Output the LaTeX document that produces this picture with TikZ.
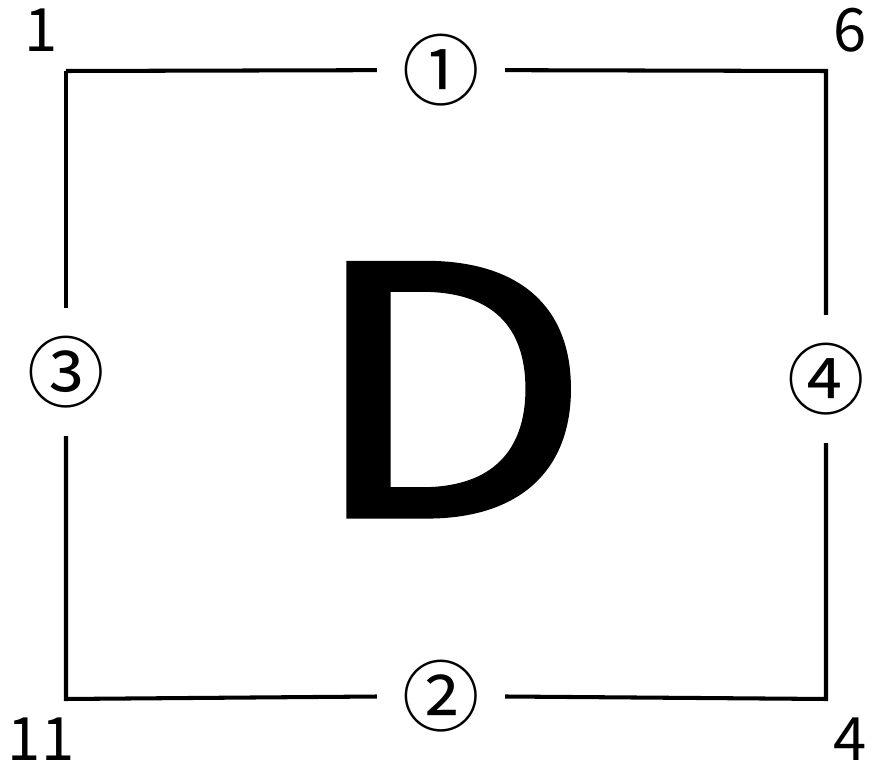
\documentclass[tikz,border=0pt]{standalone}
\usepackage{fontspec}
\setmainfont{Noto Sans CJK JP}
\newfontfamily\letterfont[FakeBold=1.5]{Noto Sans CJK JP}
\usetikzlibrary{positioning}
\tikzset{
  every picture/.style={line width=1.15pt},
  side/.style={circle, minimum size=1.24cm, inner sep=0pt, font=\fontsize{22}{22}\selectfont},
  corner/.style={anchor=base, inner sep=0pt, font=\fontsize{17}{17}\selectfont},
  letter/.style={anchor=base, inner sep=0pt, xscale=1.2, font=\fontsize{98}{98}\letterfont},
}
\begin{document}
\begin{tikzpicture}[x=0.01cm, y=-0.01cm]
  \useasboundingbox (0,0) rectangle (872,764);
  % corners of the frame
  \coordinate (tl) at (66,71);
  \coordinate (tr) at (826,71);
  \coordinate (br) at (826,699);
  \coordinate (bl) at (66,699);
  % circled side numbers
  \node[side] (s1) at (441,70) {①};
  \node[side] (s2) at (441,696) {②};
  \node[side] (s3) at (66,372) {③};
  \node[side] (s4) at (826,379) {④};
  % frame, broken at the side numbers
  \draw (tl) -- (s1);
  \draw (s1) -- (tr) -- (s4);
  \draw (s4) -- (br) -- (s2);
  \draw (s2) -- (bl) -- (s3);
  \draw (s3) -- (tl);
  % corner numbers
  \node[corner] (k1) at (41,52) {1};
  \node[corner] (k6) at (850,52) {6};
  \node[corner] (k11) at (41,761) {11};
  \node[corner] (k4) at (850,761) {4};
  % centre letter
  \node[letter] (d) at (450,516) {D};
\end{tikzpicture}
\end{document}
